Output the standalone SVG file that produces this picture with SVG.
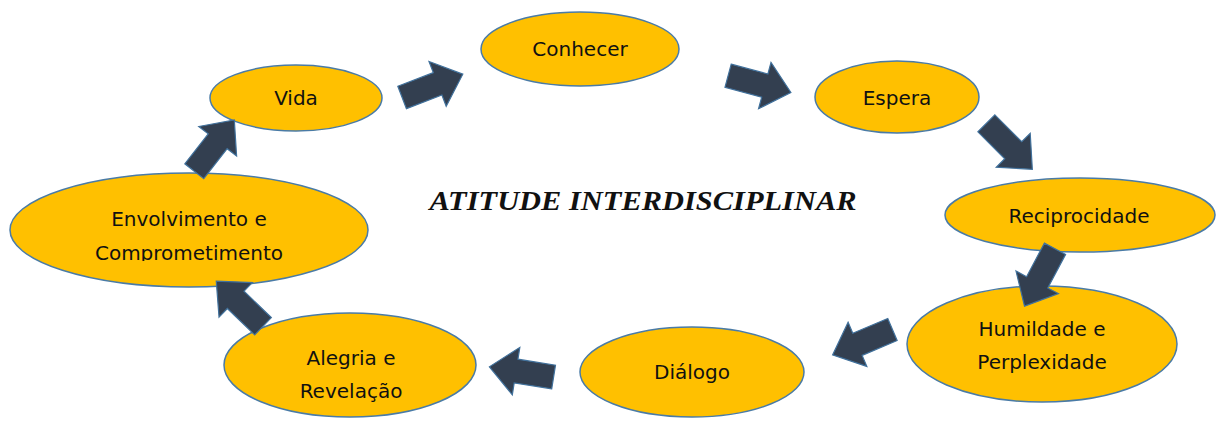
<svg xmlns="http://www.w3.org/2000/svg" width="1221" height="430" viewBox="0 0 1221 430">
<style>
.node{fill:#FFC000;stroke:#4A7BA6;stroke-width:1.5}
.lbl{font-family:"DejaVu Sans",Verdana,sans-serif;font-size:20px;fill:#111;text-anchor:middle}
.arr{fill:#333F50;stroke:#41719C;stroke-width:1.2;stroke-linejoin:miter}
.title{font-family:"Liberation Serif","Times New Roman",serif;font-weight:bold;font-style:italic;font-size:27px;fill:#111;text-anchor:middle}
</style>
<defs>
<polygon id="blk" points="-32,-12 6,-12 6,-24 33,0 6,24 6,12 -32,12"/>
<clipPath id="envClip"><rect x="0" y="160" width="400" height="101"/></clipPath>
</defs>
<rect width="1221" height="430" fill="#fff"/>
<g id="vida"><ellipse class="node" cx="296" cy="98" rx="86" ry="33"/><text class="lbl" x="296" y="105">Vida</text></g>
<g id="conhecer"><ellipse class="node" cx="580" cy="49" rx="99" ry="37"/><text class="lbl" x="580" y="56">Conhecer</text></g>
<g id="espera"><ellipse class="node" cx="897" cy="97" rx="82" ry="36"/><text class="lbl" x="897" y="105">Espera</text></g>
<g id="reciprocidade"><ellipse class="node" cx="1080" cy="215" rx="135" ry="37"/><text class="lbl" x="1079" y="223">Reciprocidade</text></g>
<g id="humildade"><ellipse class="node" cx="1042" cy="344" rx="135" ry="58"/><text class="lbl" x="1042" y="336">Humildade e</text><text class="lbl" x="1042" y="369">Perplexidade</text></g>
<g id="dialogo"><ellipse class="node" cx="692" cy="372" rx="112" ry="45"/><text class="lbl" x="692" y="379">Diálogo</text></g>
<g id="alegria"><ellipse class="node" cx="350" cy="365" rx="126" ry="52"/><text class="lbl" x="351" y="365">Alegria e</text><text class="lbl" x="351" y="398">Revelação</text></g>
<g id="envolvimento"><ellipse class="node" cx="189" cy="230" rx="179" ry="57"/><g clip-path="url(#envClip)"><text class="lbl" x="189" y="226">Envolvimento e</text><text class="lbl" x="189" y="260">Comprometimento</text></g></g>
<g id="connectors">
<use href="#blk" class="arr" transform="translate(214,146) rotate(-52)"/>
<use href="#blk" class="arr" transform="translate(432,86) rotate(-21)"/>
<use href="#blk" class="arr" transform="translate(759,84) rotate(15)"/>
<use href="#blk" class="arr" transform="translate(1009,146) rotate(45)"/>
<use href="#blk" class="arr" transform="translate(1040,277) rotate(118)"/>
<use href="#blk" class="arr" transform="translate(863,342) rotate(157)"/>
<use href="#blk" class="arr" transform="translate(522,372) rotate(189)"/>
<use href="#blk" class="arr" transform="translate(240,304) rotate(224)"/>
</g>
<g id="title"><text class="title" x="643" y="210" textLength="427" lengthAdjust="spacingAndGlyphs">ATITUDE INTERDISCIPLINAR</text></g>
</svg>
